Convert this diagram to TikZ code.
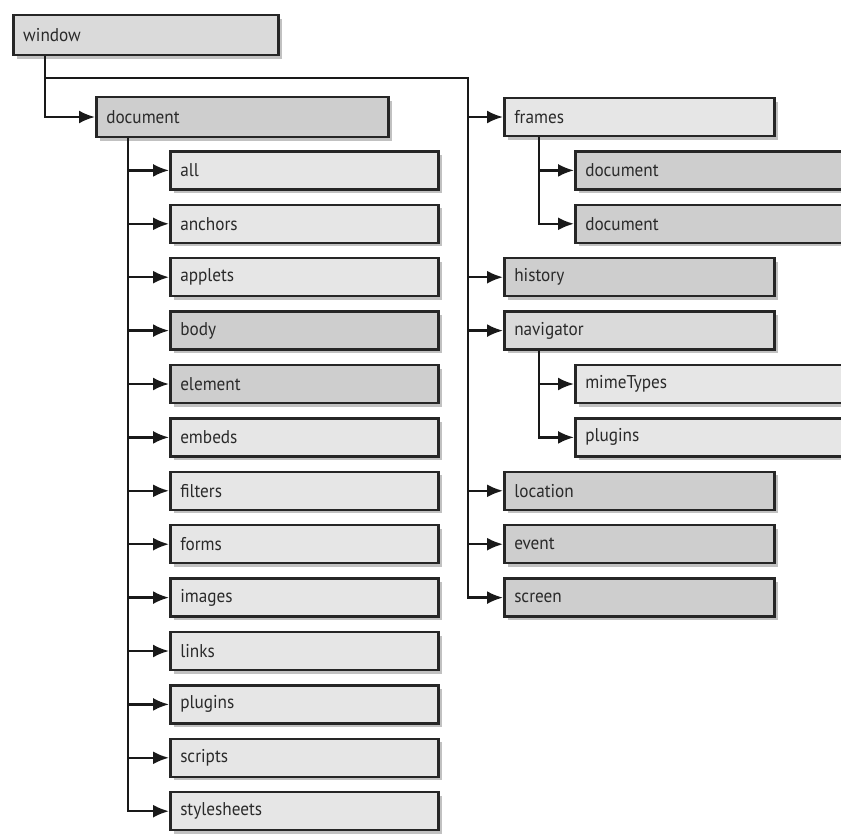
\documentclass[tikz,border=0pt]{standalone}
\usepackage{fontspec}
\setmainfont[FakeStretch=0.93]{PT Sans}
\usetikzlibrary{arrows.meta,shadows,calc}
\definecolor{boxlight}{HTML}{E6E6E6}
\definecolor{boxmid}{HTML}{DADADA}
\definecolor{boxdark}{HTML}{CECECE}
\definecolor{txt}{HTML}{2A2A2A}
\tikzset{
  box/.style={draw=black!85, line width=2.5pt, fill=boxlight, anchor=west,
    minimum height=38pt, inner xsep=10pt, inner ysep=0pt, align=left,
    font=\fontsize{18.5}{18.5}\selectfont, text=txt,
    drop shadow={shadow xshift=3.5pt, shadow yshift=-3.5pt, opacity=0.4, fill=black!60}},
  dk/.style={fill=boxdark},
  md/.style={fill=boxmid},
  wl/.style={text width=248pt},
  wr/.style={text width=250pt},
  conn/.style={line width=2.4pt, draw=black!90},
  arr/.style={conn, -{Latex[length=16pt,width=13pt]}},
}
\begin{document}
\begin{tikzpicture}[x=1pt,y=-1pt]
\useasboundingbox[fill=white] (0,0) rectangle (841,833);
\begin{scope}
\clip (0,0) rectangle (841,833);
% window and document
\node[box, md, text width=245pt, minimum height=40pt] (window) at (12,35) {window};
\node[box, dk, text width=272pt, minimum height=40pt] (document) at (95,117) {document};
% document children
\foreach \n/\t/\s [count=\i from 1] in {all/all/, anchors/anchors/, applets/applets/, body/body/dk, element/element/dk, embeds/embeds/, filters/filters/, forms/forms/, images/images/, links/links/, dplugins/plugins/, scripts/scripts/, stylesheets/stylesheets/}{
  \node[box, wl, \s] (\n) at (169,{117+53.4*\i}) {\t};
}
% right column
\node[box, wr] (frames) at (503,117) {frames};
\node[box, wr, dk] (fdoc1) at (574,170.4) {document};
\node[box, wr, dk] (fdoc2) at (574,223.8) {document};
\node[box, wr, dk] (history) at (503,277.2) {history};
\node[box, wr, md] (navigator) at (503,330.6) {navigator};
\node[box, wr] (mimetypes) at (574,384) {mimeTypes};
\node[box, wr] (nplugins) at (574,437.4) {plugins};
\node[box, wr, dk] (location) at (503,490.8) {location};
\node[box, wr, dk] (event) at (503,544.2) {event};
\node[box, wr, dk] (screen) at (503,597.6) {screen};
\end{scope}
% connectors
\coordinate (wtrunk) at (45,78);
\coordinate (rtrunk) at (468,78);
\coordinate (dtrunk) at (128,0);
\coordinate (ftrunk) at (539,0);
\draw[arr] (window.south -| wtrunk) |- (document.west);
\draw[conn] (wtrunk) -- (rtrunk) -- (rtrunk |- event.west);
\foreach \n in {frames,history,navigator,location,event}
  \draw[arr] (rtrunk |- \n.west) -- (\n.west);
\draw[arr] (rtrunk |- event.west) |- (screen.west);
\draw[conn] (document.south -| dtrunk) -- (dtrunk |- scripts.west);
\foreach \n in {all,anchors,applets,body,element,embeds,filters,forms,images,links,dplugins,scripts}
  \draw[arr] (dtrunk |- \n.west) -- (\n.west);
\draw[arr] (dtrunk |- scripts.west) |- (stylesheets.west);
\draw[arr] (frames.south -| ftrunk) |- (fdoc1.west);
\draw[arr] (ftrunk |- fdoc1.west) |- (fdoc2.west);
\draw[arr] (navigator.south -| ftrunk) |- (mimetypes.west);
\draw[arr] (ftrunk |- mimetypes.west) |- (nplugins.west);
\end{tikzpicture}
\end{document}
